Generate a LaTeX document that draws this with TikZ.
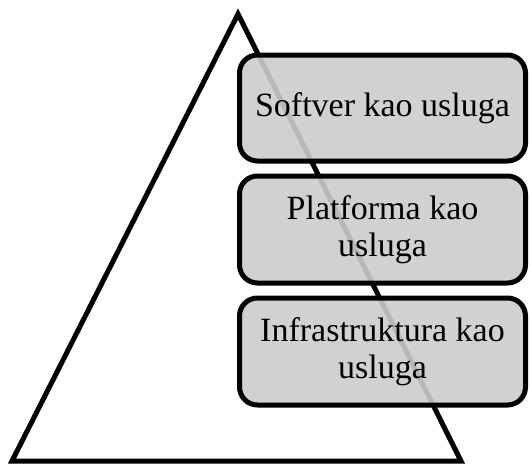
\documentclass[tikz,border=0pt]{standalone}
\usepackage{fontspec}
\setmainfont{Liberation Serif}
\usepackage{tikz}
\usetikzlibrary{calc}

\begin{document}
\begin{tikzpicture}[x=1pt, y=-1pt,
    layer/.style={draw, line width=5pt, rounded corners=18pt, fill=black!20, fill opacity=0.9, text opacity=1,
      minimum width=286pt, minimum height=106pt, inner sep=0, align=center, font=\fontsize{34}{37}\selectfont}]
        \useasboundingbox (0,0) rectangle (531,466);

        \coordinate (apex) at (238, 14);
        \coordinate (bl) at (12, 461);
        \coordinate (br) at (461, 461);

        \draw[line width=5pt] (apex) -- (br) -- (bl) -- cycle;

        \node (saas) [layer] at (382.5, 108) {Softver kao usluga};
        \node (paas) [layer, minimum height=107pt] at (382.5, 229.5) {Platforma kao\\usluga};
        \node (iaas) [layer, minimum height=107pt] at (382.5, 351.5) {Infrastruktura kao\\usluga};
      \end{tikzpicture}
\end{document}
